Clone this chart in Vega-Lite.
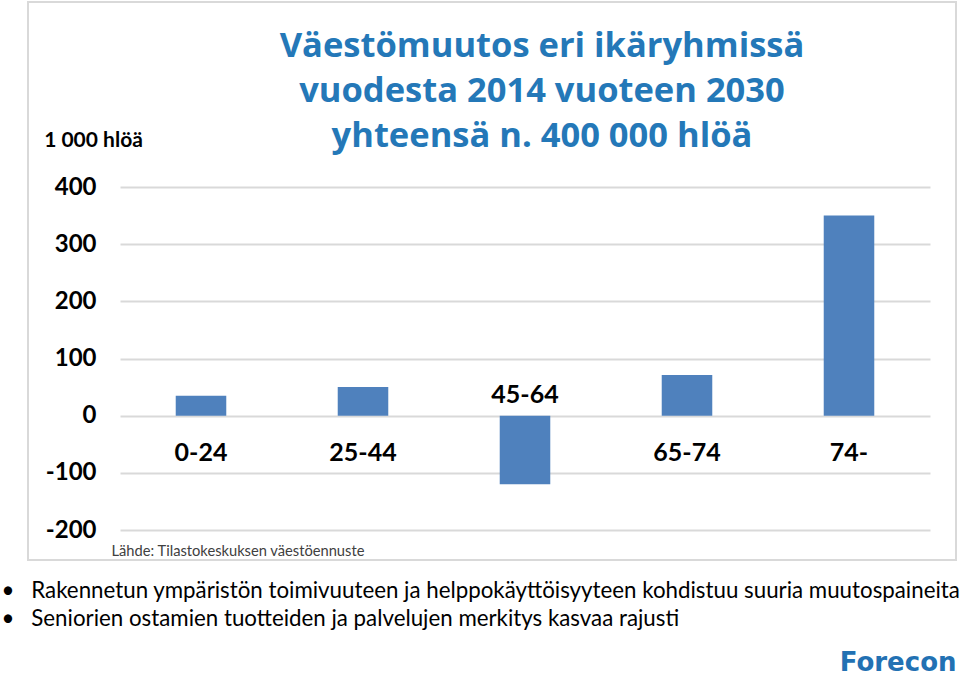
{
  "$schema": "https://vega.github.io/schema/vega-lite/v6.json",
  "autosize": {"type": "none"},
  "width": 928,
  "height": 558,
  "padding": {"left": 28, "top": 2, "right": 4, "bottom": 116},
  "background": "white",
  "config": {
    "view": {"stroke": "#d9d9d9", "strokeWidth": 2},
    "font": "Lato"
  },
  "title": {
    "text": ["Väestömuutos eri ikäryhmissä", "vuodesta 2014 vuoteen 2030", "yhteensä n. 400 000 hlöä"],
    "font": "Open Sans",
    "fontSize": 34.5,
    "fontWeight": "bold",
    "color": "#2478B8",
    "lineHeight": 45,
    "anchor": "middle",
    "dx": 50,
    "dy": 152,
    "offset": 0
  },
  "data": {
    "values": [
      {"ika": "0-24", "muutos": 35},
      {"ika": "25-44", "muutos": 50},
      {"ika": "45-64", "muutos": -120},
      {"ika": "65-74", "muutos": 71},
      {"ika": "74-", "muutos": 350}
    ]
  },
  "resolve": {"axis": {"x": "independent", "y": "independent"}},
  "layer": [
    {
      "mark": {"type": "bar", "color": "#4F81BD"},
      "encoding": {
        "x": {
          "field": "ika", "type": "nominal", "sort": null,
          "scale": {"range": [92, 902], "paddingInner": 0.688, "paddingOuter": 0.344},
          "axis": {
            "orient": "bottom", "labels": false, "ticks": false, "domain": false, "grid": false,
            "title": "Lähde: Tilastokeskuksen väestöennuste",
            "titleFont": "Lato", "titleFontSize": 14.7, "titleFontWeight": "normal", "titleColor": "#404040",
            "titleAnchor": "start", "titleAlign": "left", "titleBaseline": "alphabetic",
            "titleX": 83, "titleY": -5
          }
        },
        "y": {
          "field": "muutos", "type": "quantitative",
          "scale": {"domain": [-200, 400], "range": [528, 185], "nice": false, "zero": false},
          "axis": {
            "orient": "left", "offset": -70, "values": [-200, -100, 0, 100, 200, 300, 400],
            "labelExpr": "'' + datum.value",
            "domain": false, "ticks": false, "tickSize": 0, "labelPadding": 2,
            "grid": true, "gridColor": "#d9d9d9", "gridWidth": 2,
            "labelFont": "Lato", "labelFontSize": 24, "labelFontWeight": "bold", "labelColor": "#000000",
            "title": "1 000 hlöä", "titleAngle": 0, "titleFont": "Lato", "titleFontSize": 21,
            "titleFontWeight": "bold", "titleColor": "#000000", "titleAlign": "center",
            "titleBaseline": "middle", "titleX": -5, "titleY": 138
          }
        }
      }
    },
    {
      "transform": [{"filter": "datum.ika !== '45-64'"}],
      "mark": {"type": "text", "font": "Lato", "fontSize": 25, "fontWeight": "bold", "color": "#000000", "baseline": "middle"},
      "encoding": {
        "x": {"field": "ika", "type": "nominal", "sort": null,
          "axis": {
            "orient": "top", "labels": false, "ticks": false, "domain": false, "grid": false,
            "title": ["\u2022\u2002\u00a0Rakennetun ympäristön toimivuuteen ja helppokäyttöisyyteen kohdistuu suuria muutospaineita", "\u2022\u2002\u00a0Seniorien ostamien tuotteiden ja palvelujen merkitys kasvaa rajusti"],
            "titleFont": "Lato", "titleFontSize": 22.3, "titleFontWeight": "normal", "titleColor": "#000000",
            "titleAnchor": "start", "titleAlign": "left", "titleBaseline": "alphabetic", "titleLineHeight": 28,
            "titleX": -27, "titleY": 595
          }
        },
        "y": {"datum": -65, "type": "quantitative", "axis": null},
        "text": {"field": "ika"}
      }
    },
    {
      "transform": [{"filter": "datum.ika === '45-64'"}],
      "mark": {"type": "text", "font": "Lato", "fontSize": 25, "fontWeight": "bold", "color": "#000000", "baseline": "middle"},
      "encoding": {
        "x": {"field": "ika", "type": "nominal", "sort": null, "axis": null},
        "y": {"datum": 37, "type": "quantitative",
          "axis": {
            "orient": "right", "labels": false, "ticks": false, "domain": false, "grid": false,
            "title": "Forecon", "titleAngle": 0, "titleFont": "DejaVu Sans", "titleFontSize": 26,
            "titleFontWeight": "bold", "titleColor": "#2271B3", "titleAlign": "right",
            "titleBaseline": "alphabetic", "titleX": 0, "titleY": 668
          }
        },
        "text": {"field": "ika"}
      }
    }
  ]
}
